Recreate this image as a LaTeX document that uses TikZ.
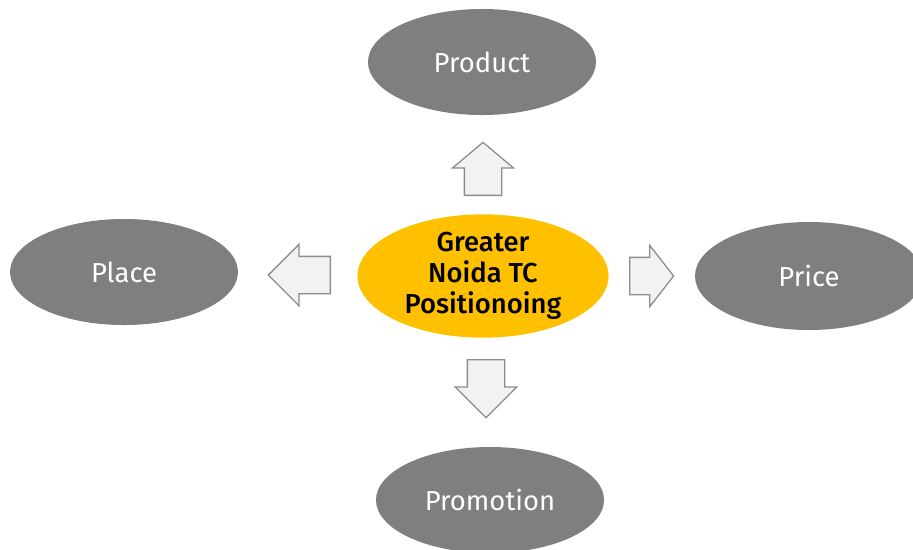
\documentclass[tikz,border=0pt]{standalone}
\usepackage{fontspec}
\setmainfont{Fira Sans}
\newfontfamily\corefont{Fira Sans Medium}
\usetikzlibrary{shapes.geometric,shapes.arrows}
\definecolor{mixgray}{HTML}{7F7F7F}
\definecolor{coregold}{HTML}{FFC000}
\definecolor{arrowfill}{HTML}{F2F2F2}
\definecolor{arrowline}{HTML}{8C8C8C}

\begin{document}
\begin{tikzpicture}[x=0.025cm,y=-0.025cm,
  mixbox/.style={ellipse, fill=mixgray, text=white, inner sep=0pt,
    minimum width=5.7cm, minimum height=2.65cm, font=\fontsize{19.5}{22}\selectfont},
  corebox/.style={ellipse, fill=coregold, inner sep=0pt, align=center,
    minimum width=6.275cm, minimum height=2.825cm, font=\corefont\fontsize{19.5}{22}\selectfont},
  blockarrow/.style={single arrow, draw=arrowline, fill=arrowfill, line width=0.9pt,
    inner xsep=0pt, inner ysep=0.45cm, minimum width=1.5cm, single arrow head extend=0.3cm, anchor=tail},
  upright/.style={inner xsep=0.45cm, inner ysep=0pt}]
\useasboundingbox (0,0) rectangle (913,549);
\node[corebox] (core) at (483,276) {Greater\\Noida TC\\Positionoing};
\node[mixbox] (product) at (482,62) {Product};
\node[mixbox] (place) at (124,272) {Place};
\node[mixbox, minimum height=2.7cm] (price) at (809,276) {Price};
\node[mixbox] (promotion) at (490,500) {Promotion};
\node[blockarrow, upright, minimum height=1.325cm, single arrow tip angle=100, shape border rotate=90] (toproduct) at (483,196) {};
\node[blockarrow, minimum height=1.55cm, shape border rotate=180] (toplace) at (331,275) {};
\node[blockarrow, minimum height=1.1cm, single arrow tip angle=104] (toprice) at (629,276) {};
\node[blockarrow, upright, minimum height=1.45cm, shape border rotate=270] (topromotion) at (486,359) {};
\end{tikzpicture}
\end{document}
